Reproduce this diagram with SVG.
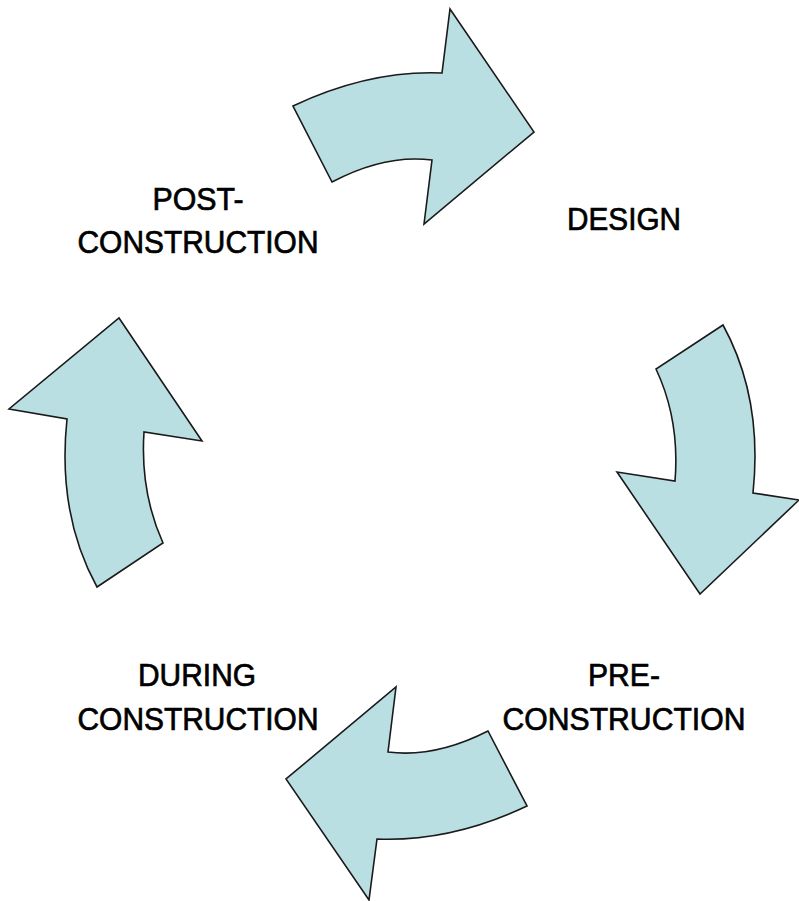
<svg xmlns="http://www.w3.org/2000/svg" width="799" height="901" viewBox="0 0 799 901">
  <style>
    .arrow { fill: #badfe2; stroke: #1a1a1a; stroke-width: 1.6; stroke-linejoin: miter; }
    .label { font-family: "Liberation Sans", Arial, sans-serif; font-size: 32px; fill: #000; stroke: #000; stroke-width: 0.7; text-anchor: middle; }
  </style>
  <rect width="799" height="901" fill="#ffffff"/>

  <!-- curved cycle arrows -->
  <g id="connectors">
    <path id="arrow-top" class="arrow" d="M293,106 Q369,70 442,73 L450,9 L534,132 L424,224 L432,160 Q385,154 332,182 Z"/>
    <path id="arrow-right" class="arrow" d="M723,325 Q763,398 753,493 L799,500 L700,594 L617,472 L675,481 Q680,420 656,369 Z"/>
    <path id="arrow-bottom" class="arrow" d="M527,806 Q451,842 377,839 L369,900 L286,779 L396,687 L388,752 Q435,758 488,731 Z"/>
    <path id="arrow-left" class="arrow" d="M97,587 Q57,514 67,419 L9,409 L119,318 L202,441 L144,432 Q140,492 163,543 Z"/>
  </g>

  <g id="node-design">
    <text class="label" x="624" y="230" textLength="114" lengthAdjust="spacingAndGlyphs">DESIGN</text>
  </g>
  <g id="node-pre-construction">
    <text class="label" x="624" y="686" textLength="72" lengthAdjust="spacingAndGlyphs">PRE-</text>
    <text class="label" x="624" y="730" textLength="243" lengthAdjust="spacingAndGlyphs">CONSTRUCTION</text>
  </g>
  <g id="node-during-construction">
    <text class="label" x="197" y="686" textLength="118" lengthAdjust="spacingAndGlyphs">DURING</text>
    <text class="label" x="198" y="730" textLength="241" lengthAdjust="spacingAndGlyphs">CONSTRUCTION</text>
  </g>
  <g id="node-post-construction">
    <text class="label" x="198" y="210" textLength="91" lengthAdjust="spacingAndGlyphs">POST-</text>
    <text class="label" x="198" y="253" textLength="241" lengthAdjust="spacingAndGlyphs">CONSTRUCTION</text>
  </g>
</svg>
